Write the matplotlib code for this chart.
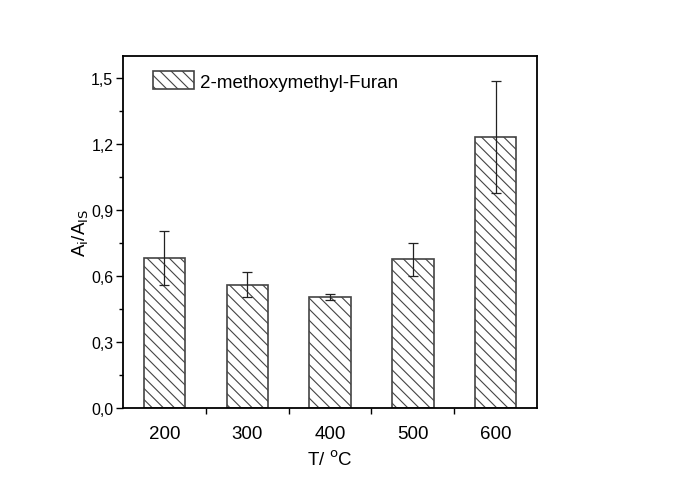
import matplotlib.pyplot as plt
from matplotlib.ticker import MultipleLocator, FuncFormatter, FixedLocator

plt.rcParams['font.family'] = ['Liberation Sans', 'DejaVu Sans']
plt.rcParams['hatch.linewidth'] = 0.8

temperaturas = ['200', '300', '400', '500', '600']
razao = [0.682, 0.560, 0.505, 0.677, 1.232]
erro = [0.122, 0.057, 0.015, 0.075, 0.255]

fig = plt.figure(figsize=(6.89, 4.81), dpi=100)
ax = fig.add_axes([0.1785, 0.1497, 0.601, 0.7318])

pos = list(range(len(temperaturas)))
ax.bar(pos, razao, width=0.5, color='white', edgecolor='#444444', linewidth=1.2,
       hatch='\\\\\\', label='2-methoxymethyl-Furan')
ax.errorbar(pos, razao, yerr=erro, fmt='none', ecolor='#222222', elinewidth=0.9,
            capsize=3.5, capthick=0.9)

ax.set_xlim(-0.5, len(temperaturas) - 0.5)
ax.set_ylim(0, 1.6)
ax.set_xticks(pos)
ax.set_xticklabels(temperaturas, fontsize=13.5)
ax.xaxis.set_minor_locator(FixedLocator([0.5, 1.5, 2.5, 3.5]))
ax.tick_params(axis='x', which='major', length=0, pad=12)
ax.tick_params(axis='x', which='minor', length=4, width=1, direction='out')

ax.yaxis.set_major_locator(MultipleLocator(0.3))
ax.yaxis.set_minor_locator(MultipleLocator(0.15))
ax.yaxis.set_major_formatter(FuncFormatter(lambda v, p: f'{v:.1f}'.replace('.', ',')))
ax.tick_params(axis='y', which='major', length=5, width=1, labelsize=11.5, pad=2)
ax.tick_params(axis='y', which='minor', length=3, width=1)

for s in ax.spines.values():
    s.set_linewidth(1.3)

ax.set_xlabel('T/ $^{\\mathrm{o}}$C', fontsize=13.5, labelpad=6)
ax.set_ylabel('A$_\\mathrm{i}$/A$_\\mathrm{IS}$', fontsize=13.5, labelpad=0)

ax.legend(loc='upper left', frameon=False, fontsize=13.5, handlelength=2.2,
          handleheight=1.1, borderaxespad=0, borderpad=0, handletextpad=0.3,
          bbox_to_anchor=(0.0725, 0.957))

fig.savefig('out.png', dpi=100, facecolor='white')
